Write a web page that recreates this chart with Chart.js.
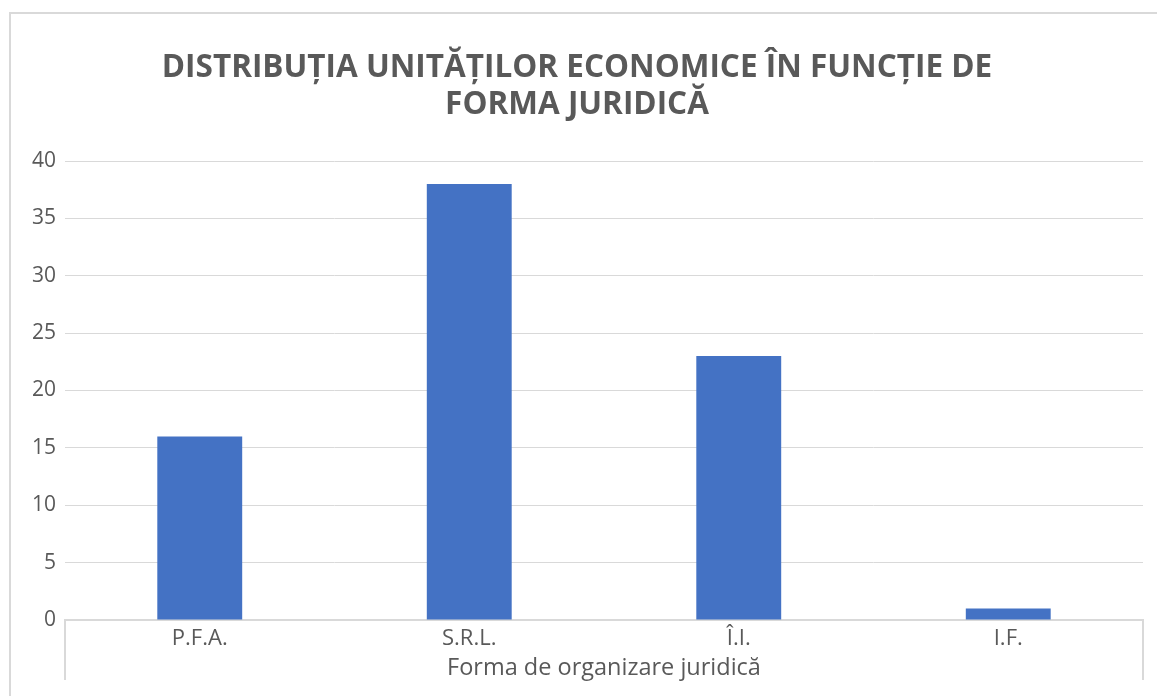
<!DOCTYPE html>
<html>
<head>
<meta charset="utf-8">
<script src="https://cdn.jsdelivr.net/npm/chart.js@4"></script>
<style>
html,body{margin:0;padding:0;background:#fff;overflow:hidden;}
#frame{position:absolute;left:9px;top:12px;width:1160px;height:700px;border-left:2px solid #d9d9d9;border-top:2px solid #d9d9d9;}
#wrap{position:absolute;left:0;top:0;width:1146px;height:682px;}
</style>
</head>
<body>
<div id="frame"><div id="wrap"><canvas id="c"></canvas></div></div>
<script>
const titleLines = ["DISTRIBUȚIA UNITĂȚILOR ECONOMICE ÎN FUNCȚIE DE", "FORMA JURIDICĂ"];
const categories = ["P.F.A.", "S.R.L.", "Î.I.", "I.F."];
const values = [16, 38, 23, 1];
const xTitle = "Forma de organizare juridică";
const yMin = 0, yMax = 40, yStep = 5;

const FONT = "'Open Sans', sans-serif";
const GREY = "#595959";
const LINE = "#d9d9d9";

const edgeTicks = {
  id: "edgeTicks",
  afterDraw(chart) {
    const {ctx, chartArea} = chart;
    ctx.save();
    ctx.strokeStyle = LINE;
    ctx.lineWidth = 2;
    [chartArea.left, chartArea.right].forEach(x => {
      ctx.beginPath();
      ctx.moveTo(x, chartArea.bottom);
      ctx.lineTo(x, chartArea.bottom + 60);
      ctx.stroke();
    });
    ctx.restore();
  }
};

new Chart(document.getElementById("c"), {
  type: "bar",
  data: {
    labels: categories,
    datasets: [{
      data: values,
      backgroundColor: "#4472C4",
      categoryPercentage: 1,
      barPercentage: 0.315
    }]
  },
  options: {
    responsive: true,
    maintainAspectRatio: false,
    animation: false,
    layout: {padding: {left: 0, right: 14, top: 0, bottom: 14}},
    plugins: {
      legend: {display: false},
      tooltip: {enabled: false},
      title: {
        display: true,
        text: titleLines,
        color: GREY,
        font: {family: FONT, size: 31.5, weight: "bold", lineHeight: 1.175},
        padding: {top: 36, bottom: 37}
      }
    },
    scales: {
      x: {
        grid: {display: true, drawOnChartArea: false, drawTicks: false, color: LINE},
        border: {color: LINE, width: 2},
        ticks: {color: GREY, font: {family: FONT, size: 22}, padding: 6},
        title: {display: true, text: xTitle, color: GREY, font: {family: FONT, size: 23.5}, padding: {top: 0, bottom: 0}},
        afterFit(s) { s.height = 62; }
      },
      y: {
        min: yMin, max: yMax,
        ticks: {stepSize: yStep, color: GREY, font: {family: FONT, size: 21}, padding: 9},
        grid: {color: LINE, lineWidth: 1, drawTicks: false},
        border: {display: false},
        afterFit(s) { s.width = 54; }
      }
    }
  },
  plugins: [edgeTicks]
});
</script>
</body>
</html>
